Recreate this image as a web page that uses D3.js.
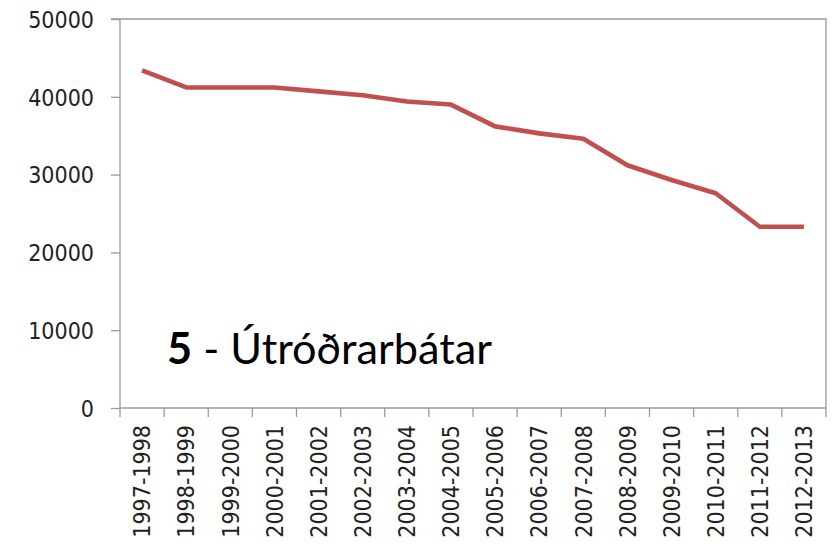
<!DOCTYPE html>
<html><head><meta charset="utf-8">
<script src="https://cdn.jsdelivr.net/npm/d3@7"></script>
<style>
body{margin:0;background:#fff;}
svg{display:block;}
.tick text{font-family:"DejaVu Sans Condensed","DejaVu Sans",sans-serif;font-stretch:condensed;font-size:23px;fill:#222;}
</style></head>
<body><svg id="c" width="839" height="552"></svg>
<script>
const categories = ["1997-1998","1998-1999","1999-2000","2000-2001","2001-2002","2002-2003","2003-2004","2004-2005","2005-2006","2006-2007","2007-2008","2008-2009","2009-2010","2010-2011","2011-2012","2012-2013"];
const values = [43400,41200,41200,41200,40700,40200,39400,39000,36200,35300,34600,31200,29300,27600,23300,23300];
const yTicks = [0,10000,20000,30000,40000,50000];
const titleNum = "5";
const titleText = " - Útróðrarbátar";

const svg = d3.select("#c");
const L = 120, R = 826, T = 19, B = 408;
const x = d3.scaleBand().domain(categories).range([L, R]);
const y = d3.scaleLinear().domain([0, 50000]).range([B, T]);
const axisColor = "#9a9a9a";

// plot border (top & right)
svg.append("path").attr("d", `M${L-9},${T}H${R}V${B}`).attr("fill","none").attr("stroke",axisColor).attr("stroke-width",1.3);

const yAxis = svg.append("g").attr("transform",`translate(${L},0)`)
  .call(d3.axisLeft(y).tickValues(yTicks).tickFormat(d3.format("d")).tickSize(9).tickPadding(17));
yAxis.selectAll("line,path").attr("stroke",axisColor).attr("stroke-width",1.3);
yAxis.select(".domain").attr("d",`M0,${T}V${B}`);
yAxis.selectAll(".tick text").attr("dy","0.36em");

const xAxis = svg.append("g").attr("transform",`translate(0,${B})`)
  .call(d3.axisBottom(x).tickSize(0).tickFormat(d=>d));
xAxis.select(".domain").attr("d",`M${L},0H${R}`).attr("stroke",axisColor).attr("stroke-width",1.3);
xAxis.selectAll(".tick text").attr("transform","rotate(-90)").attr("text-anchor","end")
  .attr("x",-17).attr("y",0).attr("dy","0.36em");
// x tick marks at band boundaries
const bounds = categories.map(c => x(c)).concat([R]);
xAxis.selectAll("line.bt").data(bounds).join("line").attr("class","bt")
  .attr("x1",d=>d).attr("x2",d=>d).attr("y1",0).attr("y2",9).attr("stroke",axisColor).attr("stroke-width",1.3);

const line = d3.line().x((d,i)=>x(categories[i]) + x.bandwidth()/2).y(d=>y(d));
svg.append("path").datum(values).attr("d",line).attr("fill","none")
  .attr("stroke","#c0504d").attr("stroke-width",4.6).attr("stroke-linejoin","round");

const t = svg.append("text").attr("x",167).attr("y",364)
  .style("font-family","Lato, 'Open Sans', sans-serif").style("font-size","36px").attr("fill","#000");
t.append("tspan").style("font-weight","bold").text(titleNum);
t.append("tspan").text(titleText);
const w = t.node().getComputedTextLength();
t.style("font-size", (36*325/w).toFixed(2)+"px");
</script></body></html>
